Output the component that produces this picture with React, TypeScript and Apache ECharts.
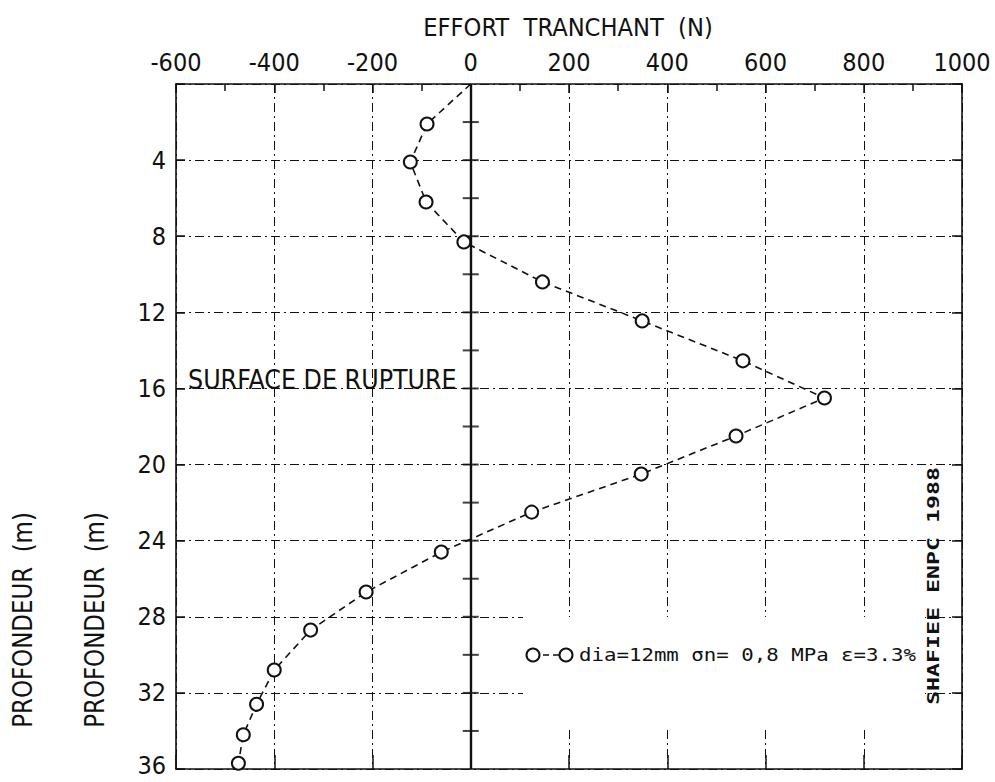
import React, { useEffect, useRef } from "react";
import * as echarts from "echarts";

const shear = [0, -89, -123, -91, -14, 146, 349, 554, 720, 540, 347, 124, -60, -213, -326, -400, -436, -463, -473];
const depth = [0, 2.1, 4.1, 6.2, 8.3, 10.4, 12.45, 14.55, 16.5, 18.5, 20.5, 22.5, 24.6, 26.7, 28.7, 30.8, 32.6, 34.2, 35.7];
const zeroTicks = [2, 4, 6, 8, 10, 12, 14, 16, 18, 20, 22, 24, 26, 28, 30, 32, 34];
const xTitle = "EFFORT  TRANCHANT  (N)";
const yTitle = "PROFONDEUR  (m)";
const ruptureLabel = "SURFACE DE RUPTURE";
const legendLabel = "dia=12mm σn= 0,8 MPa ε=3.3%";
const creditLabel = "SHAFIEE ENPC 1988";

const FONT = "'Liberation Sans Narrow', 'DejaVu Sans Condensed', 'Roboto', sans-serif";
const INK = "#111";

export default function App() {
  const ref = useRef<HTMLDivElement>(null);
  useEffect(() => {
    if (!ref.current) return;
    const chart = echarts.init(ref.current, null, { renderer: "svg" });
    const gridLine = { show: true, lineStyle: { color: INK, width: 1, type: [9, 4, 2, 4] as any } };
    const points = shear.map((s, i) =>
      i === 0 ? { value: [s, depth[i]], symbol: "none" } : { value: [s, depth[i]] }
    );
    chart.setOption({
      animation: false,
      backgroundColor: "#fff",
      grid: { left: 176, top: 84, width: 786, height: 685 },
      xAxis: [
        {
          type: "value",
          position: "top",
          min: -600,
          max: 1000,
          interval: 200,
          axisLine: { show: true, lineStyle: { color: INK, width: 1.6 } },
          axisTick: { show: true, inside: true, length: 9, lineStyle: { color: INK, width: 1.5 } },
          minorTick: { show: true, splitNumber: 2, length: 7, lineStyle: { color: INK, width: 1.5 } },
          axisLabel: { margin: 9, fontSize: 25, color: INK, fontFamily: FONT, formatter: (v: number) => String(v) },
          splitLine: gridLine,
        },
        {
          type: "value",
          position: "bottom",
          min: -600,
          max: 1000,
          interval: 200,
          axisLine: { show: true, onZero: false, lineStyle: { color: INK, width: 1.6 } },
          axisTick: { show: true, inside: true, length: 14, lineStyle: { color: INK, width: 1.5 } },
          axisLabel: { show: false },
          splitLine: { show: false },
        },
      ],
      yAxis: [
        {
          type: "value",
          inverse: true,
          min: 0,
          max: 36,
          interval: 4,
          axisLine: { show: true, onZero: false, lineStyle: { color: INK, width: 1.6 } },
          axisTick: { show: true, inside: true, length: 9, lineStyle: { color: INK, width: 1.5 } },
          axisLabel: {
            margin: 10,
            fontSize: 25,
            color: INK,
            fontFamily: FONT,
            formatter: (v: number) => (v === 0 ? "" : v === 36 ? `{last|${v}}` : String(v)),
            rich: { last: { fontSize: 25, fontFamily: FONT, color: INK, padding: [0, 0, 8, 0] } },
          },
          splitLine: gridLine,
        },
        {
          type: "value",
          inverse: true,
          position: "right",
          min: 0,
          max: 36,
          interval: 4,
          axisLine: { show: true, onZero: false, lineStyle: { color: INK, width: 1.6 } },
          axisTick: { show: true, inside: true, length: 10, lineStyle: { color: INK, width: 1.5 } },
          axisLabel: { show: false },
          splitLine: { show: false },
        },
      ],
      graphic: [
        { type: "rect", z: 1, shape: { x: 523, y: 617, width: 402, height: 112 }, style: { fill: "#fff" } },
        {
          type: "text", z: 10, x: 568, y: 28, scaleX: 1.05,
          style: { text: xTitle, font: `24px ${FONT}`, fill: INK, align: "center", verticalAlign: "middle" },
        },
        {
          type: "text", z: 10, x: 23, y: 620, rotation: Math.PI / 2, scaleX: 0.98,
          style: { text: yTitle, font: `26px ${FONT}`, fill: INK, align: "center", verticalAlign: "middle" },
        },
        {
          type: "text", z: 10, x: 95, y: 620, rotation: Math.PI / 2, scaleX: 0.98,
          style: { text: yTitle, font: `26px ${FONT}`, fill: INK, align: "center", verticalAlign: "middle" },
        },
        {
          type: "text", z: 10, x: 188, y: 393, scaleX: 1.02,
          style: { text: ruptureLabel, font: `26px ${FONT}`, fill: INK, align: "left", verticalAlign: "bottom" },
        },
        {
          type: "line", z: 10,
          shape: { x1: 533, y1: 655, x2: 566, y2: 655 },
          style: { stroke: INK, lineWidth: 1.6, lineDash: [6, 4] },
        },
        { type: "circle", z: 11, shape: { cx: 533, cy: 655, r: 6.5 }, style: { fill: "#fff", stroke: INK, lineWidth: 2 } },
        { type: "circle", z: 11, shape: { cx: 566, cy: 655, r: 6.5 }, style: { fill: "#fff", stroke: INK, lineWidth: 2 } },
        {
          type: "text", z: 10, x: 579, y: 655, scaleX: 1.22,
          style: { text: legendLabel, font: `17px 'DejaVu Sans Mono', monospace`, fill: INK, align: "left", verticalAlign: "middle" },
        },
        {
          type: "text", z: 10, x: 934, y: 586, rotation: Math.PI / 2, scaleX: 1.55,
          style: { text: creditLabel, font: `bold 15px 'DejaVu Sans Mono', monospace`, fill: INK, align: "center", verticalAlign: "middle" },
        },
      ],
      series: [
        {
          type: "line",
          xAxisIndex: 0,
          yAxisIndex: 0,
          data: points,
          symbol: "emptyCircle",
          symbolSize: 13,
          z: 5,
          lineStyle: { color: INK, width: 1.6, type: [7, 5] as any },
          itemStyle: { color: INK, borderColor: INK, borderWidth: 2 },
          markLine: {
            silent: true,
            symbol: "none",
            label: { show: false },
            lineStyle: { color: INK, width: 2.4, type: "solid" },
            data: [{ xAxis: 0 }],
          },
        },
        {
          type: "scatter",
          xAxisIndex: 0,
          yAxisIndex: 0,
          silent: true,
          z: 4,
          data: zeroTicks.map((d) => [0, d]),
          symbol: "rect",
          symbolSize: [16, 2],
          itemStyle: { color: INK },
        },
      ],
    });
    return () => chart.dispose();
  }, []);
  return (
    <div
      ref={ref}
      style={{ position: "fixed", left: 0, top: 0, width: "995px", height: "782px", background: "#fff" }}
    />
  );
}
